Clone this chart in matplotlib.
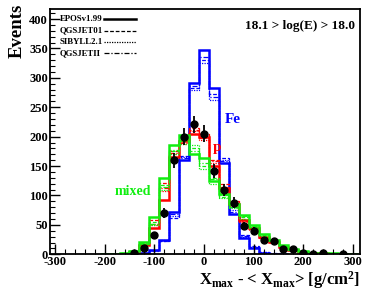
import matplotlib
matplotlib.use("Agg")
import matplotlib.pyplot as plt
import numpy as np

plt.rcParams['font.family'] = ['Liberation Serif', 'DejaVu Serif']
plt.rcParams['font.weight'] = 'bold'
plt.rcParams['axes.unicode_minus'] = False
plt.rcParams['mathtext.fontset'] = 'custom'
plt.rcParams['mathtext.rm'] = 'Liberation Serif:bold'
plt.rcParams['mathtext.it'] = 'Liberation Serif:bold'
plt.rcParams['mathtext.bf'] = 'Liberation Serif:bold'

# ---------------- data ----------------
bin_centers = [-200, -180, -160, -140, -120, -100, -80, -60, -40, -20, 0, 20, 40,
               60, 80, 100, 120, 140, 160, 180, 200, 220, 240, 260, 280, 300]
bin_width = 20

fe_epos    = [0, 0, 0.5, 1, 2, 7, 24, 72, 160, 291, 347, 283, 155, 68, 28, 10, 3, 1, 0.5, 0, 0, 0, 0, 0, 0, 0]
fe_qgs01   = [0, 0, 0.5, 1, 3, 8, 22, 62, 167, 283, 330, 272, 163, 80, 33, 14, 4, 1.5, 0.5, 0, 0, 0, 0, 0, 0, 0]
fe_sibyll  = [0, 0, 0.5, 1, 2, 6, 25, 65, 165, 280, 325, 262, 160, 76, 30, 12, 4, 1, 0.5, 0, 0, 0, 0, 0, 0, 0]
fe_qgsII   = [0, 0, 0.5, 1, 3, 7, 23, 68, 163, 286, 335, 268, 158, 72, 31, 13, 3, 1, 0.5, 0, 0, 0, 0, 0, 0, 0]

p_epos     = [0, 0, 1, 4, 16, 45, 92, 165, 192, 205, 200, 150, 112, 85, 58, 44, 29, 21, 13, 8, 4, 2.5, 1.5, 1, 0.5, 0]
p_qgs01    = [0, 0, 1.5, 5, 18, 58, 121, 175, 195, 215, 205, 160, 120, 90, 60, 45, 30, 22, 13, 8, 4, 2.5, 1.5, 1, 0.5, 0]
p_sibyll   = [0, 0, 1, 4, 15, 50, 107, 170, 188, 210, 195, 155, 108, 82, 55, 42, 27, 20, 12, 7, 4, 2, 1.5, 1, 0.5, 0]
p_qgsII    = [0, 0, 1, 5, 17, 52, 112, 172, 190, 212, 198, 158, 115, 87, 57, 43, 28, 21, 12, 8, 4, 2, 1.5, 1, 0.5, 0]

mix_epos   = [0.5, 1, 2, 6, 21, 64, 129, 186, 203, 170, 163, 125, 103, 86, 67, 50, 35, 25, 15, 9, 5, 3, 2, 1.5, 1, 0.5]
mix_qgs01  = [0.5, 1, 2, 5, 18, 55, 118, 175, 195, 180, 150, 130, 98, 80, 63, 47, 33, 23, 14, 8, 5, 3, 2, 1.5, 1, 0.5]
mix_sibyll = [0.5, 1, 2, 5, 17, 50, 110, 170, 188, 185, 145, 120, 95, 78, 60, 45, 31, 22, 13, 8, 4, 3, 2, 1, 1, 0.5]
mix_qgsII  = [0.5, 1, 2, 5, 19, 52, 114, 178, 192, 176, 155, 128, 100, 82, 65, 48, 34, 24, 14, 8, 5, 3, 2, 1.5, 1, 0.5]

data_x   = [-140, -120, -100, -80, -60, -40, -20, 0, 20, 40, 60, 80, 100, 120, 140, 160, 180, 200, 220, 240, 280]
data_y   = [2, 11, 32, 70, 160, 200, 221, 205, 141, 109, 88, 48, 40, 25, 23, 9, 9, 3, 1, 2, 1]
data_err = [1.4, 3.3, 5.7, 8.4, 12.6, 14.1, 14.9, 14.3, 11.9, 10.4, 9.4, 6.9, 6.3, 5.0, 4.8, 3.0, 3.0, 1.7, 1.0, 1.4, 1.0]

model_names = ["EPOSv1.99", "QGSJET01", "SIBYLL2.1", "QGSJETII"]

x_ticks = [-300, -200, -100, 0, 100, 200, 300]
y_ticks = [0, 50, 100, 150, 200, 250, 300, 350, 400]

# ---------------- figure ----------------
fig = plt.figure(figsize=(3.82, 2.95), dpi=100)
ax = fig.add_axes([50/382, 1-254.3/295, 310/382, (254.3-9)/295])

centers = np.array(bin_centers, dtype=float)
edges = np.append(centers - bin_width/2, centers[-1] + bin_width/2)

styles = [('-', 1.8), ((0, (3, 1.5)), 0.9), ((0, (1, 1)), 0.9), ((0, (4, 1.5, 1, 1.5)), 0.9)]
comps = [('#0000ff', [fe_epos, fe_qgs01, fe_sibyll, fe_qgsII]),
         ('#ff0000', [p_epos, p_qgs01, p_sibyll, p_qgsII]),
         ('#11ee11', [mix_epos, mix_qgs01, mix_sibyll, mix_qgsII])]

for color, series in comps:
    for (ls, lw), vals in zip(styles, series):
        v = np.array(vals, dtype=float)
        nz = np.nonzero(v)[0]
        lo, hi = nz[0], nz[-1] + 1
        ax.stairs(v[lo:hi], edges[lo:hi+1], color=color, linestyle=ls, linewidth=lw,
                  baseline=None)

ax.errorbar(data_x, data_y, yerr=data_err, fmt='o', color='black', markersize=5,
            elinewidth=1.3, capsize=0, zorder=10)

ax.set_xlim(-310, 314)
ax.set_ylim(0, 417)

ax.set_xticks(x_ticks)
ax.set_xticks(np.arange(-300, 311, 20), minor=True)
ax.set_yticks(y_ticks)
ax.set_yticks(np.arange(0, 411, 10), minor=True)
ax.tick_params(axis='both', which='major', direction='in', length=7, width=1,
               labelsize=9, pad=1.5, top=False, right=False)
ax.tick_params(axis='both', which='minor', direction='in', length=3.5, width=0.8,
               top=False, right=False)
for lab in ax.get_xticklabels() + ax.get_yticklabels():
    lab.set_fontweight('bold')
for s in ax.spines.values():
    s.set_linewidth(1.3)

fig.text(17/382, 1-31/295, "Events", rotation=90, ha='center', va='center',
         fontsize=13.5, fontweight='bold')
fig.text(360/382, 1-280/295, r"X$_{max}$ - < X$_{max}$> [g/cm$^{2}$]",
         ha='right', va='center', fontsize=12, fontweight='bold')

ax.text(0.985, 0.955, "18.1 > log(E) > 18.0", transform=ax.transAxes, ha='right',
        va='top', fontsize=9.5, fontweight='bold')
ax.text(42, 224, "Fe", color='#0000ff', fontsize=11, fontweight='bold')
ax.text(18, 175, "p", color='#ff0000', fontsize=11, fontweight='bold')
ax.text(-179, 100, "mixed", color='#11ee11', fontsize=10, fontweight='bold')

# legend drawn manually (left-aligned text, line samples in a column)
row_px = [19, 30.7, 42.3, 53.3]
for name, (ls, lw), ry in zip(model_names, styles, row_px):
    yf = 1 - (ry - 9) / 245.3
    ax.text((60 - 50) / 310, yf, name, transform=ax.transAxes, ha='left',
            va='center', fontsize=6.3, fontweight='bold')
    ax.plot([(104 - 50) / 310, (136 - 50) / 310], [yf, yf], transform=ax.transAxes,
            color='black', linestyle=ls, linewidth=lw)

fig.savefig("out.png", dpi=100)
